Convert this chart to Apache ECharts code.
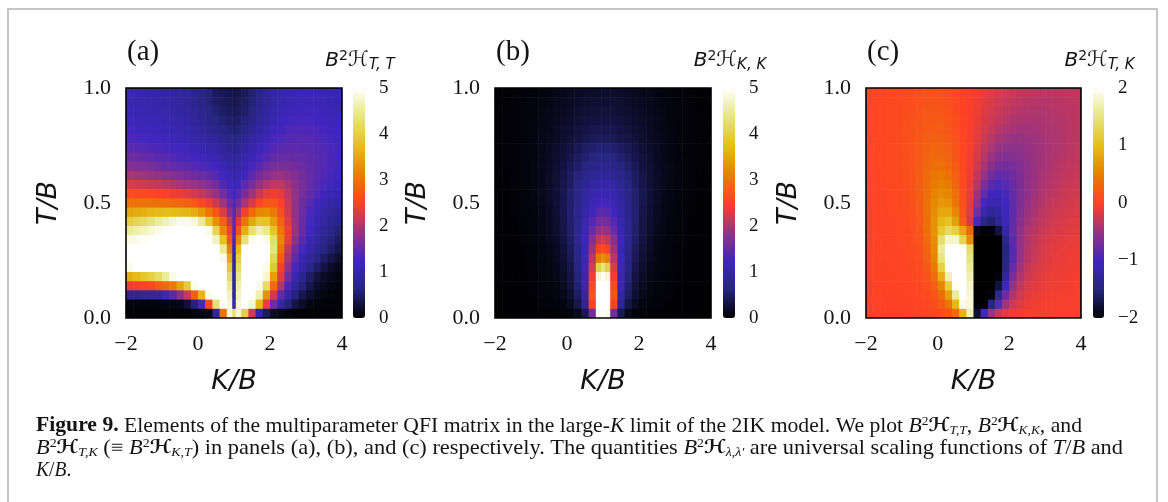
<!DOCTYPE html>
<html><head><meta charset="utf-8">
<script src="https://cdn.jsdelivr.net/npm/echarts@6/dist/echarts.min.js"></script>
<style>html,body{margin:0;padding:0;background:#fff}#c{width:1168px;height:502px}</style>
</head><body><div id="c"></div>
<script>
// ---------------- data ----------------
const kEdgesAB = [-2,-1.8,-1.6,-1.4,-1.2,-1,-0.8,-0.6,-0.4,-0.2,0,0.2,0.4,0.6,0.8,0.95,1.05,1.2,1.4,1.6,1.8,2,2.2,2.4,2.6,2.8,3,3.2,3.4,3.6,3.8,4];
const kEdgesC = [-2,-1.8,-1.6,-1.4,-1.2,-1,-0.8,-0.6,-0.4,-0.2,0,0.2,0.4,0.6,0.8,1,1.2,1.4,1.6,1.8,2,2.2,2.4,2.6,2.8,3,3.2,3.4,3.6,3.8,4];
const tEdges = [1,0.96,0.92,0.88,0.84,0.8,0.76,0.72,0.68,0.64,0.6,0.56,0.52,0.48,0.44,0.4,0.36,0.32,0.28,0.24,0.2,0.16,0.12,0.08,0.04,0];
const kTickStep = 2, tTickStep = 0.5;
const cbRangeAB = [0,5], cbRangeC = [-2,2];
const panelLabels = ['(a)','(b)','(c)'];
const cbSubs = ['T, T','K, K','T, K'];

// B^2 H_{T,T}: rows from T=1 (top) to T=0 (bottom)
const hTT = [
[1.05,1.05,1.02,1.0,0.98,0.95,0.92,0.88,0.82,0.75,0.67,0.58,0.45,0.4,0.37,0.36,0.37,0.42,0.54,0.68,0.82,0.93,1.02,1.08,1.12,1.14,1.14,1.13,1.12,1.1,1.05],
[1.1,1.08,1.06,1.04,1.02,0.99,0.96,0.92,0.86,0.79,0.7,0.6,0.5,0.44,0.41,0.39,0.41,0.47,0.58,0.72,0.86,0.97,1.06,1.12,1.16,1.18,1.18,1.17,1.15,1.12,1.08],
[1.15,1.13,1.11,1.09,1.07,1.04,1.0,0.96,0.9,0.83,0.74,0.65,0.56,0.49,0.45,0.42,0.44,0.51,0.63,0.77,0.91,1.02,1.11,1.17,1.21,1.23,1.23,1.22,1.2,1.17,1.12],
[1.2,1.18,1.16,1.14,1.12,1.09,1.05,1.01,0.96,0.89,0.8,0.71,0.63,0.56,0.51,0.48,0.5,0.58,0.7,0.84,0.98,1.09,1.18,1.24,1.28,1.29,1.28,1.26,1.24,1.2,1.15],
[1.25,1.23,1.21,1.19,1.17,1.14,1.11,1.07,1.02,0.96,0.88,0.8,0.72,0.64,0.58,0.55,0.58,0.67,0.8,0.94,1.07,1.18,1.26,1.32,1.35,1.35,1.33,1.31,1.28,1.24,1.19],
[1.32,1.3,1.28,1.26,1.24,1.21,1.18,1.14,1.1,1.04,0.98,0.92,0.85,0.75,0.68,0.65,0.68,0.78,0.92,1.05,1.17,1.27,1.33,1.38,1.4,1.4,1.38,1.36,1.33,1.28,1.22],
[1.42,1.4,1.38,1.35,1.32,1.29,1.26,1.23,1.19,1.14,1.09,1.04,0.98,0.87,0.79,0.75,0.79,0.9,1.04,1.17,1.28,1.36,1.41,1.44,1.45,1.44,1.42,1.39,1.36,1.31,1.24],
[1.55,1.53,1.5,1.47,1.44,1.4,1.37,1.33,1.3,1.26,1.21,1.16,1.1,0.98,0.9,0.85,0.9,1.02,1.16,1.29,1.4,1.48,1.52,1.53,1.52,1.49,1.46,1.42,1.38,1.32,1.25],
[1.72,1.7,1.67,1.63,1.59,1.55,1.51,1.47,1.43,1.39,1.35,1.3,1.25,1.1,1.0,0.95,1.0,1.14,1.29,1.43,1.55,1.63,1.66,1.65,1.6,1.54,1.48,1.43,1.38,1.31,1.23],
[1.95,1.93,1.9,1.86,1.82,1.78,1.73,1.68,1.64,1.59,1.54,1.47,1.4,1.22,1.1,1.05,1.1,1.26,1.43,1.6,1.74,1.84,1.86,1.8,1.7,1.6,1.5,1.43,1.36,1.28,1.19],
[2.25,2.23,2.2,2.17,2.13,2.08,2.03,1.98,1.92,1.86,1.79,1.7,1.6,1.38,1.22,1.15,1.22,1.42,1.63,1.84,2.02,2.12,2.1,1.95,1.78,1.62,1.5,1.4,1.31,1.22,1.12],
[2.62,2.6,2.58,2.55,2.51,2.47,2.42,2.37,2.3,2.22,2.12,2.0,1.85,1.6,1.38,1.25,1.4,1.65,1.9,2.15,2.35,2.42,2.32,2.08,1.82,1.62,1.48,1.36,1.25,1.14,1.04],
[3.0,3.0,3.0,3.0,2.98,2.95,2.92,2.88,2.82,2.72,2.58,2.4,2.2,1.9,1.55,1.35,1.6,1.95,2.25,2.55,2.72,2.72,2.5,2.15,1.82,1.57,1.4,1.26,1.12,1.0,0.9],
[3.5,3.55,3.6,3.65,3.7,3.72,3.72,3.7,3.65,3.55,3.35,3.05,2.7,2.3,1.8,1.4,1.9,2.45,2.9,3.2,3.25,3.05,2.65,2.2,1.82,1.54,1.33,1.16,1.02,0.88,0.76],
[4.0,4.1,4.2,4.35,4.5,4.65,4.8,4.9,4.9,4.8,4.5,3.9,3.3,2.8,2.1,1.45,2.3,3.0,3.5,3.85,3.8,3.4,2.85,2.3,1.85,1.52,1.28,1.1,0.94,0.8,0.66],
[4.5,4.6,4.7,4.8,4.9,5,5,5,5,5,5,4.9,4.1,3.2,2.4,1.4,2.7,3.6,4.3,4.6,4.45,3.85,3.05,2.4,1.88,1.5,1.24,1.04,0.86,0.7,0.56],
[4.85,4.9,4.95,5,5,5,5,5,5,5,5,5,4.7,3.8,2.7,1.3,3.2,4.3,4.9,5,4.9,4.25,3.2,2.35,1.78,1.4,1.14,0.94,0.75,0.6,0.46],
[5,5,5,5,5,5,5,5,5,5,5,5,5,4.5,3.1,1.15,3.7,5,5,5,5,4.35,3.0,2.1,1.6,1.28,1.04,0.84,0.65,0.5,0.38],
[5,5,5,5,5,5,5,5,5,5,5,5,5,4.9,3.5,1.0,4.0,5,5,5,5,4.1,2.75,1.95,1.45,1.12,0.88,0.66,0.48,0.34,0.24],
[4.9,5,5,5,5,5,5,5,5,5,5,5,5,5,3.9,0.9,4.2,5,5,5,4.9,3.9,2.5,1.8,1.3,1.0,0.72,0.5,0.33,0.21,0.13],
[3.6,3.7,3.85,4.0,4.2,4.5,4.9,5,5,5,5,5,5,5,4.2,0.85,4.4,5,5,5,4.8,3.4,2.3,1.6,1.1,0.75,0.5,0.32,0.2,0.13,0.08],
[2.4,2.5,2.55,2.6,2.75,2.9,3.05,3.45,3.95,4.9,5,5,5,5,4.5,0.85,4.6,5,5,4.9,4.2,2.9,2.0,1.35,0.9,0.6,0.38,0.22,0.14,0.09,0.06],
[0.8,0.8,0.85,0.9,0.95,1.15,1.4,1.75,2.15,2.8,3.65,4.9,5,5,4.7,0.9,4.7,5,5,4.6,3.3,2.2,1.5,1.0,0.6,0.38,0.22,0.13,0.08,0.05,0.04],
[0.05,0.05,0.05,0.05,0.06,0.08,0.1,0.12,0.28,0.6,1.3,2.6,4.3,5,4.8,1.2,4.8,5,4.8,3.7,2.4,1.6,1.0,0.6,0.35,0.2,0.1,0.06,0.04,0.04,0.04],
[0.03,0.03,0.03,0.03,0.03,0.03,0.03,0.03,0.03,0.08,0.1,0.12,0.9,3.0,4.8,4.3,4.8,4.0,2.2,1.0,0.45,0.2,0.1,0.06,0.03,0.03,0.03,0.03,0.03,0.03,0.03]
];

// B^2 H_{K,K}
const hKK = [
[.022,.028,.033,.038,.045,.055,.07,.09,.11,.13,.15,.18,.2,.21,.22,.22,.22,.21,.2,.18,.15,.13,.11,.09,.07,.055,.045,.038,.033,.028,.022],
[.025,.03,.036,.043,.05,.063,.08,.1,.125,.15,.18,.2,.23,.24,.25,.25,.25,.24,.23,.2,.18,.15,.125,.1,.08,.063,.05,.043,.036,.03,.025],
[.026,.032,.038,.046,.056,.07,.093,.115,.14,.17,.2,.23,.26,.28,.29,.29,.29,.28,.26,.23,.2,.17,.14,.115,.093,.07,.056,.046,.038,.032,.026],
[.026,.033,.039,.047,.06,.077,.1,.125,.15,.19,.22,.26,.3,.32,.33,.33,.33,.32,.3,.26,.22,.19,.15,.125,.1,.077,.06,.047,.039,.033,.026],
[.026,.032,.039,.048,.062,.08,.105,.13,.17,.21,.25,.3,.33,.36,.38,.38,.38,.36,.33,.3,.25,.21,.17,.13,.105,.08,.062,.048,.039,.032,.026],
[.026,.032,.039,.049,.063,.083,.11,.146,.18,.23,.28,.33,.38,.41,.44,.44,.44,.41,.38,.33,.28,.23,.18,.146,.11,.083,.063,.049,.039,.032,.026],
[.025,.032,.04,.05,.065,.088,.12,.16,.21,.265,.33,.4,.47,.53,.56,.56,.56,.53,.47,.4,.33,.265,.21,.16,.12,.088,.065,.05,.04,.032,.025],
[.025,.032,.039,.05,.067,.09,.125,.17,.225,.29,.37,.46,.54,.61,.65,.66,.65,.61,.54,.46,.37,.29,.225,.17,.125,.09,.067,.05,.039,.032,.025],
[.025,.032,.04,.052,.07,.098,.135,.185,.25,.32,.42,.52,.62,.7,.75,.76,.75,.7,.62,.52,.42,.32,.25,.185,.135,.098,.07,.052,.04,.032,.025],
[.025,.031,.039,.052,.07,.098,.137,.19,.26,.35,.46,.59,.72,.81,.87,.88,.87,.81,.72,.59,.46,.35,.26,.19,.137,.098,.07,.052,.039,.031,.025],
[.025,.03,.038,.05,.068,.095,.135,.19,.27,.37,.5,.65,.8,.93,1.0,1.02,1.0,.93,.8,.65,.5,.37,.27,.19,.135,.095,.068,.05,.038,.03,.025],
[.024,.029,.036,.047,.065,.092,.132,.19,.27,.39,.53,.7,.89,1.05,1.13,1.16,1.13,1.05,.89,.7,.53,.39,.27,.19,.132,.092,.065,.047,.036,.029,.024],
[.022,.027,.034,.044,.06,.085,.124,.18,.26,.38,.53,.72,.93,1.14,1.26,1.3,1.26,1.14,.93,.72,.53,.38,.26,.18,.124,.085,.06,.044,.034,.027,.022],
[.02,.025,.032,.042,.056,.079,.115,.17,.25,.37,.54,.74,.99,1.25,1.4,1.45,1.4,1.25,.99,.74,.54,.37,.25,.17,.115,.079,.056,.042,.032,.025,.02],
[.019,.023,.03,.038,.051,.072,.105,.155,.23,.35,.53,.76,1.05,1.38,1.59,1.65,1.59,1.38,1.05,.76,.53,.35,.23,.155,.105,.072,.051,.038,.03,.023,.019],
[.019,.023,.029,.036,.048,.067,.098,.145,.22,.34,.52,.78,1.12,1.53,1.82,1.9,1.82,1.53,1.12,.78,.52,.34,.22,.145,.098,.067,.048,.036,.029,.023,.019],
[.017,.021,.027,.034,.044,.06,.087,.128,.2,.32,.51,.79,1.18,1.72,2.14,2.25,2.14,1.72,1.18,.79,.51,.32,.2,.128,.087,.06,.044,.034,.027,.021,.017],
[.016,.019,.024,.031,.039,.053,.074,.106,.17,.28,.45,.72,1.14,1.86,2.5,2.65,2.5,1.86,1.14,.72,.45,.28,.17,.106,.074,.053,.039,.031,.024,.019,.016],
[.014,.019,.023,.029,.036,.048,.067,.098,.155,.25,.41,.7,1.15,2.06,3.1,3.3,3.1,2.06,1.15,.7,.41,.25,.155,.098,.067,.048,.036,.029,.023,.019,.014],
[.014,.018,.022,.027,.034,.045,.062,.088,.135,.23,.38,.67,1.15,2.25,4.0,4.4,4.0,2.25,1.15,.67,.38,.23,.135,.088,.062,.045,.034,.027,.022,.018,.014],
[.013,.016,.02,.025,.031,.041,.055,.075,.11,.19,.33,.6,1.12,2.4,4.8,5,4.8,2.4,1.12,.6,.33,.19,.11,.075,.055,.041,.031,.025,.02,.016,.013],
[.012,.015,.019,.024,.03,.038,.05,.065,.095,.16,.29,.55,1.1,2.6,5,5,5,2.6,1.1,.55,.29,.16,.095,.065,.05,.038,.03,.024,.019,.015,.012],
[.012,.014,.018,.022,.028,.035,.044,.055,.08,.13,.24,.48,1.0,2.7,5,5,5,2.7,1.0,.48,.24,.13,.08,.055,.044,.035,.028,.022,.018,.014,.012],
[.011,.013,.016,.02,.025,.03,.037,.045,.06,.09,.17,.36,.8,2.5,5,5,5,2.5,.8,.36,.17,.09,.06,.045,.037,.03,.025,.02,.016,.013,.011],
[.01,.011,.013,.016,.019,.022,.026,.03,.035,.045,.07,.14,.4,1.6,4.9,5,4.9,1.6,.4,.14,.07,.045,.035,.03,.026,.022,.019,.016,.013,.011,.01]
];

// B^2 H_{T,K}
const hTK = [
[0.05,0.05,0.05,0.06,0.07,0.08,0.1,0.12,0.14,0.14,0.13,0.1,0.06,0.02,-0.02,-0.07,-0.12,-0.17,-0.21,-0.25,-0.28,-0.3,-0.32,-0.33,-0.34,-0.34,-0.34,-0.33,-0.32,-0.31],
[0.05,0.05,0.05,0.06,0.07,0.09,0.11,0.13,0.15,0.16,0.15,0.12,0.07,0.02,-0.03,-0.08,-0.14,-0.19,-0.24,-0.28,-0.31,-0.33,-0.35,-0.36,-0.36,-0.36,-0.35,-0.34,-0.33,-0.32],
[0.05,0.05,0.05,0.06,0.08,0.1,0.12,0.15,0.17,0.18,0.17,0.14,0.08,0.02,-0.03,-0.09,-0.16,-0.22,-0.27,-0.31,-0.34,-0.37,-0.38,-0.39,-0.39,-0.38,-0.37,-0.36,-0.34,-0.33],
[0.05,0.05,0.05,0.06,0.08,0.1,0.13,0.16,0.19,0.2,0.19,0.16,0.1,0.03,-0.03,-0.1,-0.18,-0.25,-0.31,-0.35,-0.39,-0.41,-0.42,-0.42,-0.41,-0.4,-0.38,-0.37,-0.35,-0.33],
[0.05,0.05,0.05,0.06,0.08,0.11,0.14,0.18,0.21,0.23,0.22,0.18,0.11,0.03,-0.04,-0.12,-0.21,-0.29,-0.36,-0.41,-0.44,-0.46,-0.46,-0.45,-0.43,-0.41,-0.39,-0.37,-0.35,-0.33],
[0.05,0.05,0.05,0.06,0.08,0.11,0.15,0.19,0.23,0.26,0.25,0.21,0.13,0.04,-0.04,-0.14,-0.25,-0.35,-0.43,-0.48,-0.51,-0.51,-0.5,-0.48,-0.45,-0.42,-0.4,-0.37,-0.35,-0.33],
[0.05,0.05,0.05,0.06,0.08,0.11,0.15,0.2,0.26,0.29,0.28,0.24,0.15,0.04,-0.05,-0.17,-0.3,-0.42,-0.51,-0.56,-0.57,-0.56,-0.53,-0.5,-0.46,-0.43,-0.4,-0.37,-0.35,-0.32],
[0.05,0.05,0.05,0.06,0.08,0.11,0.15,0.21,0.28,0.33,0.33,0.28,0.18,0.05,-0.06,-0.2,-0.36,-0.5,-0.6,-0.64,-0.63,-0.6,-0.55,-0.5,-0.46,-0.42,-0.39,-0.36,-0.33,-0.31],
[0.05,0.05,0.05,0.06,0.08,0.11,0.15,0.22,0.3,0.37,0.38,0.33,0.21,0.06,-0.07,-0.24,-0.43,-0.6,-0.7,-0.72,-0.69,-0.63,-0.57,-0.51,-0.46,-0.41,-0.37,-0.34,-0.31,-0.29],
[0.04,0.04,0.05,0.06,0.08,0.11,0.15,0.23,0.33,0.42,0.45,0.39,0.25,0.07,-0.08,-0.3,-0.53,-0.72,-0.81,-0.8,-0.74,-0.66,-0.58,-0.5,-0.44,-0.39,-0.35,-0.32,-0.29,-0.27],
[0.04,0.04,0.05,0.06,0.07,0.1,0.15,0.23,0.35,0.47,0.52,0.46,0.3,0.08,-0.1,-0.37,-0.65,-0.86,-0.93,-0.88,-0.78,-0.67,-0.57,-0.49,-0.42,-0.37,-0.33,-0.29,-0.27,-0.25],
[0.04,0.04,0.04,0.05,0.07,0.1,0.14,0.23,0.37,0.52,0.6,0.55,0.36,0.1,-0.12,-0.46,-0.8,-1.0,-1.04,-0.95,-0.81,-0.67,-0.56,-0.47,-0.4,-0.35,-0.31,-0.27,-0.25,-0.23],
[0.04,0.04,0.04,0.05,0.06,0.09,0.14,0.22,0.38,0.57,0.7,0.66,0.44,0.12,-0.14,-0.57,-0.96,-1.15,-1.14,-1.0,-0.82,-0.66,-0.54,-0.45,-0.38,-0.32,-0.28,-0.25,-0.22,-0.2],
[0.03,0.03,0.04,0.05,0.06,0.08,0.13,0.21,0.38,0.61,0.82,0.82,0.56,0.15,-0.17,-0.72,-1.15,-1.32,-1.25,-1.05,-0.82,-0.64,-0.51,-0.42,-0.35,-0.29,-0.25,-0.22,-0.2,-0.18],
[0.03,0.03,0.04,0.04,0.05,0.07,0.11,0.19,0.37,0.64,0.95,1.05,0.75,0.2,-0.2,-0.95,-1.45,-1.55,-1.36,-1.07,-0.8,-0.6,-0.47,-0.38,-0.31,-0.26,-0.22,-0.19,-0.17,-0.15],
[0.03,0.03,0.03,0.04,0.05,0.06,0.1,0.17,0.35,0.65,1.1,1.35,1.2,0.8,0.3,-1.9,-2,-2,-1.75,-1.2,-0.8,-0.56,-0.42,-0.34,-0.28,-0.23,-0.19,-0.17,-0.15,-0.13],
[0.03,0.03,0.03,0.04,0.04,0.06,0.09,0.15,0.32,0.62,1.4,1.8,1.8,1.3,0.6,-2,-2,-2,-2,-1.4,-0.85,-0.55,-0.39,-0.3,-0.24,-0.19,-0.16,-0.14,-0.12,-0.11],
[0.02,0.03,0.03,0.03,0.04,0.05,0.08,0.13,0.28,0.58,1.6,2,2,2,1.4,-2,-2,-2,-2,-1.5,-0.88,-0.55,-0.38,-0.28,-0.22,-0.17,-0.14,-0.12,-0.1,-0.09],
[0.02,0.02,0.03,0.03,0.04,0.05,0.07,0.11,0.24,0.55,1.5,2,2,2,1.5,-2,-2,-2,-2,-1.5,-0.88,-0.53,-0.36,-0.26,-0.2,-0.15,-0.12,-0.1,-0.09,-0.08],
[0.02,0.02,0.02,0.03,0.03,0.04,0.06,0.09,0.2,0.45,1.2,1.95,2,2,1.6,-2,-2,-2,-2,-1.45,-0.8,-0.48,-0.31,-0.22,-0.17,-0.13,-0.1,-0.09,-0.08,-0.07],
[0.02,0.02,0.02,0.02,0.03,0.03,0.05,0.08,0.15,0.35,0.85,1.7,2,2,1.7,-2,-2,-2,-1.95,-1.3,-0.68,-0.4,-0.26,-0.18,-0.14,-0.11,-0.09,-0.08,-0.07,-0.06],
[0.02,0.02,0.02,0.02,0.02,0.03,0.04,0.06,0.11,0.25,0.55,1.2,1.95,2,1.8,-2,-2,-2,-1.75,-1.05,-0.55,-0.32,-0.21,-0.15,-0.12,-0.09,-0.08,-0.07,-0.06,-0.05],
[0.01,0.01,0.02,0.02,0.02,0.02,0.03,0.05,0.08,0.16,0.35,0.75,1.6,2,1.85,-2,-2,-1.95,-1.35,-0.75,-0.4,-0.24,-0.15,-0.11,-0.09,-0.07,-0.06,-0.05,-0.05,-0.04],
[0.01,0.01,0.01,0.01,0.02,0.02,0.02,0.03,0.05,0.1,0.2,0.42,0.95,1.9,1.85,-2,-2,-1.5,-0.9,-0.48,-0.26,-0.16,-0.1,-0.08,-0.06,-0.05,-0.05,-0.04,-0.04,-0.04],
[0.01,0.01,0.01,0.01,0.01,0.01,0.02,0.02,0.03,0.04,0.08,0.16,0.35,0.9,1.7,-1.8,-1.0,-0.5,-0.28,-0.16,-0.1,-0.07,-0.05,-0.04,-0.04,-0.04,-0.03,-0.03,-0.03,-0.03]
];

// ---------------- layout / style ----------------
const CMR = ['#000000','#262680','#4026bf','#993380','#ff4026','#e68000','#e6bf1a','#e6e680','#ffffff'];
const INK = '#141414';
const SERIF = '"Liberation Serif","Times New Roman",serif';
const SANS = '"DejaVu Sans",sans-serif';
const plots = [
  {left:126, top:88, width:216, height:230},
  {left:495, top:88, width:216, height:230},
  {left:866, top:88, width:215, height:230}
];
const bars = [
  {left:353, top:88, width:12, height:230},
  {left:723, top:88, width:12, height:230},
  {left:1093, top:88, width:11, height:230}
];
const minus = v => String(v).replace('-', '\u2212');

function cells(kEdges, rows) {
  const out = [];
  for (let i = 0; i < rows.length; i++)
    for (let j = 0; j < rows[i].length; j++)
      out.push([kEdges[j], kEdges[j + 1], tEdges[i + 1], tEdges[i], rows[i][j]]);
  return out;
}
function renderCell(params, api) {
  const a = api.coord([api.value(0), api.value(3)]);
  const b = api.coord([api.value(1), api.value(2)]);
  return {type: 'rect', shape: {x: a[0], y: a[1], width: b[0] - a[0] + 0.6, height: b[1] - a[1] + 0.6},
          style: {fill: api.visual('color')}};
}

const grids = [], xAxes = [], yAxes = [], series = [], visualMaps = [];
const panels = [
  {rows: hTT, kEdges: kEdgesAB, range: cbRangeAB},
  {rows: hKK, kEdges: kEdgesAB, range: cbRangeAB},
  {rows: hTK, kEdges: kEdgesC, range: cbRangeC}
];
panels.forEach((p, i) => {
  grids.push(Object.assign({show: true, z: 5, borderColor: '#000', borderWidth: 1.6, backgroundColor: 'transparent'}, plots[i]));
  xAxes.push({gridIndex: i, type: 'value', min: -2, max: 4, interval: kTickStep,
    axisLine: {show: false}, axisTick: {show: false}, splitLine: {show: false},
    axisLabel: {margin: 15, fontFamily: SERIF, fontSize: 22, color: INK, formatter: minus},
    name: 'K/B', nameLocation: 'middle', nameGap: 50,
    nameTextStyle: {fontFamily: SANS, fontStyle: 'italic', fontSize: 27, color: INK}});
  yAxes.push({gridIndex: i, type: 'value', min: 0, max: 1, interval: tTickStep,
    axisLine: {show: false}, axisTick: {show: false}, splitLine: {show: false},
    axisLabel: {margin: 15, fontFamily: SERIF, fontSize: 22, color: INK, formatter: v => v.toFixed(1)},
    name: 'T/B', nameLocation: 'middle', nameGap: 64, nameRotate: 90,
    nameTextStyle: {fontFamily: SANS, fontStyle: 'italic', fontSize: 27, color: INK}});
  series.push({type: 'custom', xAxisIndex: i, yAxisIndex: i, renderItem: renderCell, clip: true,
    encode: {x: [0, 1], y: [2, 3]}, data: cells(p.kEdges, p.rows), silent: true, z: 1});
  visualMaps.push({type: 'continuous', seriesIndex: i, dimension: 4, min: p.range[0], max: p.range[1],
    inRange: {color: CMR}, calculable: false, hoverLink: false, orient: 'vertical', padding: 0,
    left: bars[i].left, top: bars[i].top, itemWidth: bars[i].width, itemHeight: bars[i].height});
});
// colour-bar tick axes
panels.forEach((p, i) => {
  grids.push(Object.assign({show: false}, bars[i]));
  xAxes.push({gridIndex: 3 + i, type: 'value', show: false, min: 0, max: 1});
  yAxes.push({gridIndex: 3 + i, type: 'value', position: 'right', min: p.range[0], max: p.range[1], interval: 1,
    axisLine: {show: false}, axisTick: {show: false}, splitLine: {show: false},
    axisLabel: {margin: 14, fontFamily: SERIF, fontSize: 19, color: INK, formatter: minus}});
});

// ---------------- text graphics ----------------
const graphics = [
  {type: 'rect', shape: {x: 8, y: 9, width: 1149, height: 560}, style: {fill: 'none', stroke: '#c6c6c6', lineWidth: 2}, silent: true}
];
panelLabels.forEach((t, i) => {
  graphics.push({type: 'text', x: plots[i].left + 1, y: 52,
    style: {text: t, font: '29px ' + SERIF, fill: INK, align: 'left', verticalAlign: 'middle'}});
});
const cbRich = {
  i: {fontFamily: SANS, fontStyle: 'italic', fontSize: 20, lineHeight: 24, fill: INK},
  p: {fontFamily: SANS, fontSize: 14, lineHeight: 14, verticalAlign: 'top', fill: INK},
  h: {fontFamily: SANS, fontSize: 21, lineHeight: 24, fill: INK},
  s: {fontFamily: SANS, fontStyle: 'italic', fontSize: 15, lineHeight: 15, verticalAlign: 'bottom', fill: INK}
};
cbSubs.forEach((s, i) => {
  graphics.push({type: 'text', x: bars[i].left + bars[i].width / 2 + 1, y: 61,
    style: {text: '{i|B}{p|2}{h|\u210B}{s|' + s + '}', rich: cbRich, align: 'center', verticalAlign: 'middle'}});
});

// caption: segments [text, style]
const capFonts = {
  n: '21px ' + SERIF, b: 'bold 21px ' + SERIF, i: 'italic 21px ' + SERIF,
  p: '13px ' + SERIF, s: 'italic 13px ' + SERIF, h: 'bold 19px ' + SANS
};
const capRich = {
  n: {fontFamily: SERIF, fontSize: 21, lineHeight: 22, fill: INK},
  b: {fontFamily: SERIF, fontSize: 21, fontWeight: 'bold', lineHeight: 22, fill: INK},
  i: {fontFamily: SERIF, fontSize: 21, fontStyle: 'italic', lineHeight: 22, fill: INK},
  p: {fontFamily: SERIF, fontSize: 13, lineHeight: 13, verticalAlign: 'top', fill: INK},
  s: {fontFamily: SERIF, fontSize: 13, fontStyle: 'italic', lineHeight: 13, verticalAlign: 'bottom', fill: INK},
  h: {fontFamily: SANS, fontSize: 19, fontWeight: 'bold', lineHeight: 22, fill: INK}
};
const H = (sub) => [['B','i'],['2','p'],['\u210B','h'],[sub,'s']];
const capLines = [
  {y: 426, target: 1046, segs: [['Figure 9.','b'],[' Elements of the multiparameter QFI matrix in the large-','n'],['K','i'],[' limit of the 2IK model. We plot ','n'], ...H('T,T'), [', ','n'], ...H('K,K'), [', and','n']]},
  {y: 448, target: 1087, segs: [...H('T,K'), [' (\u2261 ','n'], ...H('K,T'), [') in panels (a), (b), and (c) respectively. The quantities ','n'], ...H('\u03BB,\u03BB\u2032'), [' are universal scaling functions of ','n'], ['T','i'], ['/','n'], ['B','i'], [' and','n']]},
  {y: 470, target: 0, segs: [['K','i'],['/','n'],['B','i'],['.','n']]}
];
const mctx = document.createElement('canvas').getContext('2d');
capLines.forEach(L => {
  let w = 0, txt = '';
  L.segs.forEach(([t, s]) => { mctx.font = capFonts[s]; w += mctx.measureText(t).width; txt += '{' + s + '|' + t + '}'; });
  const sx = L.target ? L.target / w : 0.93;
  graphics.push({type: 'text', x: 36, y: L.y, scaleX: sx,
    style: {text: txt, rich: capRich, align: 'left', verticalAlign: 'middle'}});
});

const chart = echarts.init(document.getElementById('c'), null, {renderer: 'canvas'});
chart.setOption({
  animation: false,
  backgroundColor: '#fff',
  grid: grids, xAxis: xAxes, yAxis: yAxes, series: series, visualMap: visualMaps,
  graphic: graphics
});
</script></body></html>
